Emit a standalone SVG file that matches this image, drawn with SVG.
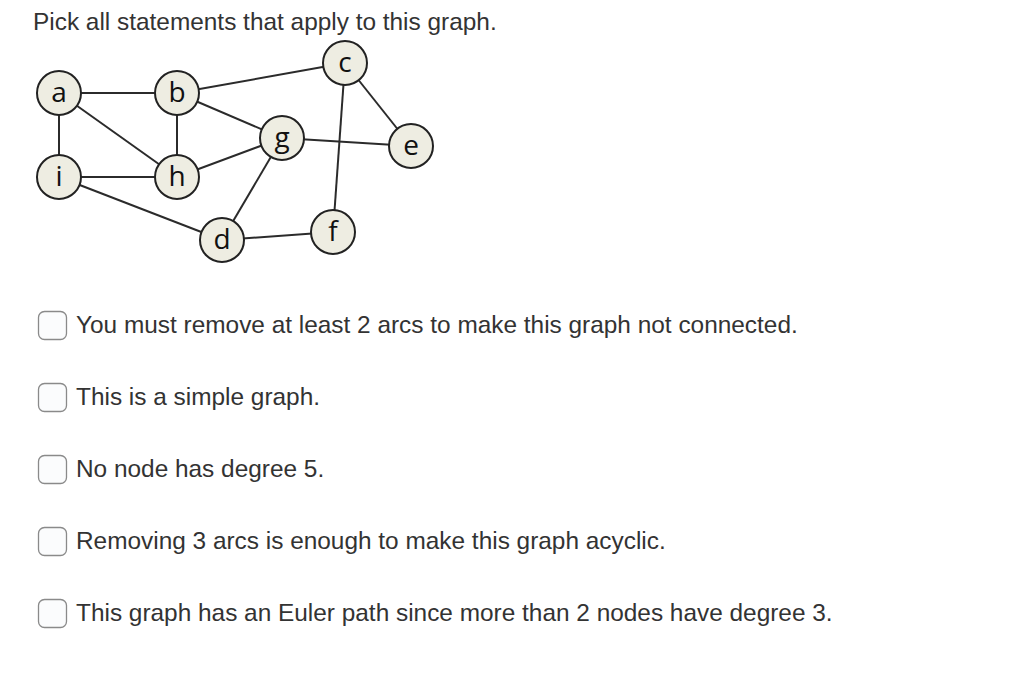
<svg xmlns="http://www.w3.org/2000/svg" width="1024" height="684" viewBox="0 0 1024 684">
<style>
.t{font-family:"Liberation Sans",Arial,sans-serif;font-size:24.4px;fill:#333}
.e line{stroke:#2b2b2b;stroke-width:2}
.n circle{fill:#eeede2;stroke:#222;stroke-width:2}
.n text{font-family:"Open Sans","Noto Sans",sans-serif;font-size:28px;fill:#111;text-anchor:middle}
.cb{fill:#fbfcfd;stroke:#8a8a8a;stroke-width:1.3}
</style>
<rect width="1024" height="684" fill="#fff"/>
<text class="t" x="33" y="30">Pick all statements that apply to this graph.</text>
<g id="connectors" class="e">
<line x1="59" y1="93" x2="177" y2="93"/>
<line x1="59" y1="93" x2="59" y2="177"/>
<line x1="59" y1="93" x2="177" y2="177"/>
<line x1="177" y1="93" x2="177" y2="177"/>
<line x1="59" y1="177" x2="177" y2="177"/>
<line x1="59" y1="177" x2="222" y2="240"/>
<line x1="177" y1="93" x2="345" y2="63"/>
<line x1="177" y1="93" x2="282" y2="138"/>
<line x1="177" y1="177" x2="282" y2="138"/>
<line x1="282" y1="138" x2="222" y2="240"/>
<line x1="282" y1="138" x2="411" y2="146"/>
<line x1="345" y1="63" x2="411" y2="146"/>
<line x1="345" y1="63" x2="333" y2="232"/>
<line x1="222" y1="240" x2="333" y2="232"/>
</g>
<g id="node-a" class="n"><circle cx="59" cy="93" r="22"/><text x="59" y="102">a</text></g>
<g id="node-b" class="n"><circle cx="177" cy="93" r="22"/><text x="177" y="102">b</text></g>
<g id="node-c" class="n"><circle cx="345" cy="63" r="22"/><text x="345" y="72">c</text></g>
<g id="node-i" class="n"><circle cx="59" cy="177" r="22"/><text x="59" y="186">i</text></g>
<g id="node-h" class="n"><circle cx="177" cy="177" r="22"/><text x="177" y="186">h</text></g>
<g id="node-g" class="n"><circle cx="282" cy="138" r="22"/><text x="282" y="147">g</text></g>
<g id="node-e" class="n"><circle cx="411" cy="146" r="22"/><text x="411" y="155">e</text></g>
<g id="node-d" class="n"><circle cx="222" cy="240" r="22"/><text x="222" y="249">d</text></g>
<g id="node-f" class="n"><circle cx="333" cy="232" r="22"/><text x="333" y="241">f</text></g>
<g id="options">
<rect class="cb" x="38.5" y="311.5" width="28" height="28" rx="6"/>
<text class="t" x="76" y="333">You must remove at least 2 arcs to make this graph not connected.</text>
<rect class="cb" x="38.5" y="383.5" width="28" height="28" rx="6"/>
<text class="t" x="76" y="405">This is a simple graph.</text>
<rect class="cb" x="38.5" y="455.5" width="28" height="28" rx="6"/>
<text class="t" x="76" y="477">No node has degree 5.</text>
<rect class="cb" x="38.5" y="527.5" width="28" height="28" rx="6"/>
<text class="t" x="76" y="549">Removing 3 arcs is enough to make this graph acyclic.</text>
<rect class="cb" x="38.5" y="599.5" width="28" height="28" rx="6"/>
<text class="t" x="76" y="621">This graph has an Euler path since more than 2 nodes have degree 3.</text>
</g>
</svg>
